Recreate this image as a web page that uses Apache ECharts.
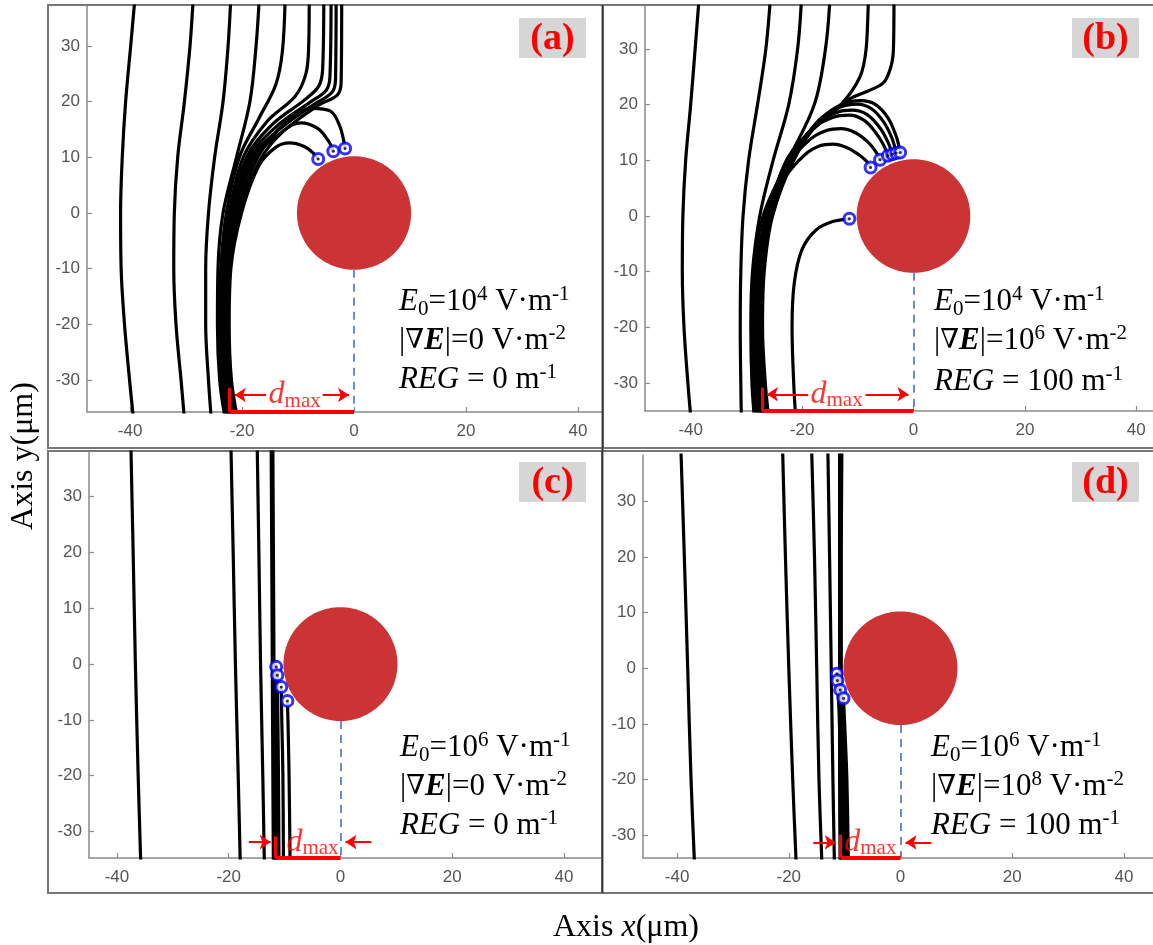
<!DOCTYPE html>
<html><head><meta charset="utf-8">
<script src="https://cdn.jsdelivr.net/npm/echarts@6/dist/echarts.min.js"></script>
<style>html,body{margin:0;padding:0;background:#fff}#c{width:1153px;height:945px}</style>
</head><body><div id="c"></div>
<script>
// ================= DATA (µm) =================
const xTickValues = [-40, -20, 0, 20, 40];
const yTickValues = [-30, -20, -10, 0, 10, 20, 30];
const panelTags = ['(a)', '(b)', '(c)', '(d)'];
const particle = [[0, 0, 10.2]];           // centre x, centre y, radius
const E0exp = [4, 4, 6, 6];                // E0 = 10^n V·m^-1
const gradEexp = [null, 6, null, 8];       // |∇E| = 10^n V·m^-2 (null -> 0)
const REGvalues = [0, 100, 0, 100];        // m^-1
const dmaxValues = [22.2, 27.2, 11.6, 10.7];

// (a) trajectories
const trajA = [
  [[-39.4,-37],[-40.1,-30],[-41.0,-20],[-41.6,-10],[-41.7,0],[-41.4,10],[-40.8,20],[-39.9,30],[-39.1,39]],
  [[-30.3,-37],[-30.9,-30],[-31.8,-20],[-32.2,-10],[-32.1,0],[-31.5,10],[-30.3,20],[-29.3,30],[-28.7,39]],
  [[-25.5,-37],[-26.0,-30],[-26.5,-20],[-26.5,-10],[-26.0,0],[-24.9,10],[-23.4,20],[-22.5,30],[-22.0,39]],
  [[-23.0,-37],[-24.0,-30],[-24.4,-20],[-24.3,-10],[-23.4,0],[-21.0,10],[-18.6,20],[-17.5,30],[-16.9,39]],
  [[-22.6,-37],[-23.6,-30],[-24.0,-20],[-23.8,-10],[-22.8,0],[-20.5,10],[-17.0,17],[-14.0,23],[-12.8,29],[-12.3,39]],
  [[-22.3,-37],[-23.3,-30],[-23.7,-20],[-23.5,-10],[-22.3,0],[-19.8,10],[-15.5,16.5],[-10.5,21],[-8.6,25],[-8.1,30],[-8.0,39]],
  [[-22.0,-37],[-23.1,-30],[-23.5,-20],[-23.2,-10],[-21.9,0],[-19.2,10],[-14.5,16],[-9.0,20.2],[-6.3,22.8],[-5.6,26],[-5.4,39]],
  [[-21.8,-37],[-22.9,-30],[-23.3,-20],[-23.0,-10],[-21.6,0],[-18.7,10],[-13.8,15.6],[-8.0,19.8],[-5.0,22.0],[-4.3,24.5],[-4.1,39]],
  [[-21.6,-37],[-22.7,-30],[-23.1,-20],[-22.8,-10],[-21.3,0],[-18.2,10],[-13.0,15.3],[-7.2,19.5],[-4.0,21.6],[-3.3,24],[-3.2,39]],
  [[-21.4,-37],[-22.5,-30],[-22.9,-20],[-22.6,-10],[-21.0,0],[-17.7,10],[-12.3,15.0],[-6.5,19.3],[-3.0,21.2],[-2.3,23.5],[-2.2,39]],
  [[-21.2,-37],[-22.3,-30],[-22.7,-20],[-22.4,-10],[-20.7,0],[-17.2,10],[-12.0,16.5],[-7.5,18.8],[-4.2,18.3],[-2.5,15.5],[-1.6,11.6]],
  [[-21.0,-37],[-22.1,-30],[-22.5,-20],[-22.2,-10],[-20.4,0],[-16.8,9.5],[-12.5,14.8],[-9.5,16.2],[-6.5,15.2],[-4.6,13.0],[-3.7,11.1]],
  [[-20.8,-37],[-21.9,-30],[-22.3,-20],[-22.0,-10],[-20.1,0],[-17.0,8.5],[-14.0,11.8],[-11.5,12.6],[-9.0,12.0],[-7.3,10.8],[-6.4,9.7]]
];
const captureA = [[-6.4,9.7],[-3.7,11.1],[-1.6,11.6]];

// (b) trajectories
const trajB = [
  [[-39.9,-37],[-40.5,-30],[-41.2,-20],[-41.5,-10],[-41.4,0],[-40.9,10],[-40.0,20],[-39.2,30],[-38.5,39]],
  [[-30.9,-37],[-31.0,-30],[-31.1,-20],[-31.0,-10],[-30.6,0],[-29.6,10],[-28.0,20],[-26.5,30],[-25.7,39]],
  [[-28.5,-37],[-29.0,-30],[-29.2,-20],[-28.9,-10],[-27.6,0],[-25.2,10],[-22.4,20],[-20.8,30],[-20.1,39]],
  [[-28.1,-37],[-28.6,-30],[-28.9,-20],[-28.6,-10],[-27.0,0],[-22.5,10],[-17.8,20],[-15.8,30],[-15.0,39]],
  [[-27.8,-37],[-28.3,-30],[-28.6,-20],[-28.3,-10],[-26.4,0],[-22.7,10],[-18.6,15],[-13.0,20],[-9.6,25],[-8.5,30],[-8.1,39]],
  [[-27.5,-37],[-28.0,-30],[-28.3,-20],[-28.0,-10],[-26.2,0],[-22.8,10],[-19.0,14.8],[-15.6,18],[-11.5,21],[-7.8,22.6],[-5.3,24],[-4.0,27],[-3.6,30],[-3.5,39]],
  [[-25.9,-37],[-26.6,-30],[-27.1,-20],[-26.8,-10],[-25.3,0],[-21.5,10],[-16.5,17.5],[-12.5,20.2],[-9.5,20.7],[-6.8,20.0],[-4.5,17.5],[-3.0,14.0],[-2.4,11.4]],
  [[-26.2,-37],[-26.9,-30],[-27.4,-20],[-27.1,-10],[-25.6,0],[-21.8,10],[-17.0,17.2],[-13.0,19.6],[-10.2,20.1],[-7.6,19.3],[-5.3,16.8],[-3.8,13.8],[-3.1,11.3]],
  [[-26.5,-37],[-27.2,-30],[-27.7,-20],[-27.4,-10],[-25.9,0],[-22.1,10],[-17.5,16.5],[-13.8,18.6],[-11.0,19.0],[-8.3,18.2],[-6.0,15.8],[-4.6,13.3],[-3.8,11.1]],
  [[-26.8,-37],[-27.4,-30],[-27.9,-20],[-27.6,-10],[-26.1,0],[-22.4,10],[-18.0,15.8],[-14.5,17.7],[-11.5,18.1],[-8.9,17.2],[-6.8,15.0],[-5.4,12.8],[-4.6,10.8]],
  [[-27.0,-37],[-27.6,-30],[-28.1,-20],[-27.8,-10],[-26.3,0],[-22.8,9],[-18.5,13.8],[-15.5,15.4],[-13.0,15.7],[-10.5,15.0],[-8.2,13.3],[-6.8,11.6],[-6.0,10.1]],
  [[-27.2,-37],[-27.8,-30],[-28.3,-20],[-28.0,-10],[-26.5,0],[-23.0,7],[-19.5,11],[-16.8,12.6],[-14.5,12.9],[-12.0,12.3],[-9.8,11.0],[-8.4,9.8],[-7.7,8.7]],
  [[-21.1,-37],[-21.5,-30],[-21.8,-20],[-21.4,-12],[-20.0,-6],[-17.5,-2.5],[-14.5,-1.0],[-11.5,-0.5]]
];
const captureB = [[-7.7,8.7],[-6.0,10.1],[-4.6,10.8],[-3.8,11.1],[-3.1,11.3],[-2.4,11.4],[-11.5,-0.5]];

// (c) trajectories
const trajC = [
  [[-35.7,-37],[-36.2,-20],[-36.7,0],[-37.1,20],[-37.5,39]],
  [[-17.9,-37],[-18.3,-20],[-18.8,0],[-19.2,20],[-19.6,39]],
  [[-13.6,-37],[-13.9,-20],[-14.3,0],[-14.6,20],[-14.9,39]],
  [[-12.0,-37],[-12.1,-20],[-12.2,0],[-12.3,20],[-12.4,39]],
  [[-11.8,-37],[-11.8,-20],[-11.9,0],[-12.0,20],[-12.1,39]],
  [[-11.5,-37],[-11.5,-20],[-11.5,-10],[-11.5,-0.5]],
  [[-11.0,-37],[-11.1,-20],[-11.2,-10],[-11.3,-2.0]],
  [[-10.2,-37],[-10.3,-20],[-10.5,-10],[-10.6,-4.1]],
  [[-9.0,-37],[-9.2,-20],[-9.4,-10],[-9.5,-6.6]]
];
const captureC = [[-11.5,-0.5],[-11.3,-2.0],[-10.6,-4.1],[-9.5,-6.6]];

// (d) trajectories
const trajD = [
  [[-36.8,-37],[-37.5,-20],[-38.1,0],[-38.7,20],[-39.3,39]],
  [[-18.6,-37],[-19.3,-20],[-20.0,0],[-20.6,20],[-21.1,39]],
  [[-14.0,-37],[-14.6,-20],[-15.0,0],[-15.4,20],[-15.9,39]],
  [[-11.8,-37],[-12.1,-20],[-12.4,0],[-12.7,20],[-13.0,39]],
  [[-10.8,-37],[-10.9,-20],[-10.9,0],[-10.9,20],[-10.9,39]],
  [[-10.6,-37],[-10.6,-20],[-10.6,0],[-10.6,20],[-10.5,39]],
  [[-10.4,-37],[-10.7,-20],[-11.0,-8],[-11.4,-1.0]],
  [[-10.1,-37],[-10.4,-20],[-10.8,-8],[-11.3,-2.2]],
  [[-9.7,-37],[-10.0,-20],[-10.4,-8],[-10.8,-3.9]],
  [[-9.3,-37],[-9.6,-20],[-10.0,-10],[-10.2,-5.4]]
];
const captureD = [[-11.4,-1.0],[-11.3,-2.2],[-10.8,-3.9],[-10.2,-5.4]];

// d_max annotation geometry (µm)
const dmaxArrowY = [-32.7, -32.0, -31.9, -31.3];
const dmaxTickTop = [-31.4, -30.8, -30.9, -29.9];
const dmaxLabelX = [-10.6, -13.8, -5.0, -5.4];
const dmaxArrowInner = [[-15.7, -5.6], [-18.9, -8.6], [-16.4, 5.5], [-15.6, 5.5]];

// ================= LAYOUT =================
const serif = "'Liberation Serif','Times New Roman',serif";
const sans = "'Liberation Sans',Arial,Helvetica,sans-serif";
const panelsLayout = [
  {grid:{left:87, top:6, width:515, height:406}, x:[-47.7,44.3], y:[-35.75,37.2], tag:[519,18], text:[399,284], outward:true},
  {grid:{left:645, top:6, width:508, height:405}, x:[-48.2,43.0], y:[-35.0,37.7], tag:[1072,18], text:[934,284], outward:true},
  {grid:{left:89, top:452, width:513, height:406}, x:[-45.0,46.8], y:[-34.75,38.0], tag:[519,462], text:[400,730], outward:false},
  {grid:{left:643, top:455, width:510, height:403}, x:[-46.1,45.2], y:[-34.1,38.3], tag:[1072,462], text:[931,730], outward:false}
];
const trajs = [trajA, trajB, trajC, trajD];
const captures = [captureA, captureB, captureC, captureD];

const grids = [], xAxes = [], yAxes = [], series = [], graphics = [];
const axisGrey = '#8a8a8a';

panelsLayout.forEach((L, i) => {
  grids.push(Object.assign({containLabel:false}, L.grid));
  xAxes.push({
    gridIndex:i, type:'value', min:L.x[0], max:L.x[1],
    axisLine:{show:true, onZero:false, lineStyle:{color:axisGrey, width:1.5}},
    axisTick:{show:true, inside:true, length:5, customValues:xTickValues, lineStyle:{color:axisGrey, width:1.2}},
    axisLabel:{show:true, customValues:xTickValues, color:'#555', fontSize:17, fontFamily:sans, margin:11},
    splitLine:{show:false}
  });
  yAxes.push({
    gridIndex:i, type:'value', min:L.y[0], max:L.y[1],
    axisLine:{show:true, onZero:false, lineStyle:{color:axisGrey, width:1.5}},
    axisTick:{show:true, inside:true, length:5, customValues:yTickValues, lineStyle:{color:axisGrey, width:1.2}},
    axisLabel:{show:true, customValues:yTickValues, color:'#555', fontSize:17, fontFamily:sans, margin:7},
    splitLine:{show:false}
  });
  // particle disc
  series.push({
    type:'custom', xAxisIndex:i, yAxisIndex:i, silent:true, z:1, clip:true,
    data: particle,
    renderItem: (params, api) => {
      const cx = api.value(0), cy = api.value(1), r = api.value(2);
      const pts = [];
      for (let k = 0; k < 120; k++) {
        const t = k / 120 * Math.PI * 2;
        pts.push(api.coord([cx + r * Math.cos(t), cy + r * Math.sin(t)]));
      }
      return {type:'polygon', shape:{points:pts}, style:{fill:'#CB3335'}};
    }
  });
  // trajectories
  trajs[i].forEach(tr => {
    series.push({
      type:'line', xAxisIndex:i, yAxisIndex:i, data:tr, showSymbol:false, symbol:'none',
      smooth:0.35, clip:true, silent:true, z:2,
      lineStyle:{color:'#000', width:3.2}
    });
  });
  // capture markers
  series.push({
    type:'scatter', xAxisIndex:i, yAxisIndex:i, data:captures[i], symbol:'circle', symbolSize:11,
    silent:true, z:3, itemStyle:{color:'#fff', borderColor:'#0000FF', borderWidth:3}
  });
  series.push({
    type:'scatter', xAxisIndex:i, yAxisIndex:i, data:captures[i], symbol:'circle', symbolSize:3,
    silent:true, z:4, itemStyle:{color:'#000'}
  });
  // d_max annotation + dashed centre line
  const ymin = L.y[0], d = -dmaxValues[i], ay = dmaxArrowY[i];
  const inner = dmaxArrowInner[i];
  const red = '#FF0000';
  const tipShift = 0.9;
  const tipL = L.outward ? d + tipShift : d - tipShift;
  const tipR = L.outward ? -tipShift : tipShift;
  const arrows = [
    [{coord:[inner[0], ay], symbol:'none', lineStyle:{color:red, width:2, type:'solid'}}, {coord:[tipL, ay], symbol:'arrow', symbolSize:11}],
    [{coord:[inner[1], ay], symbol:'none', lineStyle:{color:red, width:2, type:'solid'}}, {coord:[tipR, ay], symbol:'arrow', symbolSize:11}]
  ];
  series.push({
    type:'scatter', xAxisIndex:i, yAxisIndex:i, silent:true, z:6, clip:false,
    data:[[dmaxLabelX[i], ay]], symbolSize:1, itemStyle:{color:'rgba(0,0,0,0)'},
    label:{show:true, position:'inside', formatter:'{d|d}{m|max}',
      rich:{
        d:{fontFamily:serif, fontStyle:'italic', fontSize:32, color:red, lineHeight:34},
        m:{fontFamily:serif, fontSize:21, color:red, lineHeight:22, verticalAlign:'bottom'}
      }},
    markLine:{
      silent:true, animation:false, label:{show:false}, emphasis:{disabled:true},
      symbol:['none','none'], precision:3,
      data:[
        [{coord:[0, -particle[0][2]], symbol:'none', lineStyle:{color:'#4472C4', width:1.6, type:[8,6]}}, {coord:[0, ymin], symbol:'none'}],
        [{coord:[d, ymin], symbol:'none', lineStyle:{color:red, width:4, type:'solid'}}, {coord:[0, ymin], symbol:'none'}],
        [{coord:[d, ymin], symbol:'none', lineStyle:{color:red, width:3, type:'solid'}}, {coord:[d, dmaxTickTop[i]], symbol:'none'}]
      ].concat(arrows)
    }
  });

  // frame + tag + text
  graphics.push({
    type:'rect', silent:true, z:-1,
    shape:{x:[48,603,48,602][i], y:[5,5,451,451][i], width:[555,560,554,560][i], height:[443,443,442,442][i]},
    style:{fill:'none', stroke:'#777', lineWidth:2}
  });
  graphics.push({
    type:'group', x:L.tag[0], y:L.tag[1], z:100, silent:true,
    children:[
      {type:'rect', shape:{x:0, y:0, width:67, height:40}, style:{fill:'#D6D6D6'}},
      {type:'text', x:33.5, y:21, style:{text:panelTags[i], fill:'#FF0000', font:"bold 38px " + serif, align:'center', verticalAlign:'middle'}}
    ]
  });
  const richAnno = {
    n:{fontFamily:serif, fontSize:31, lineHeight:36, fill:'#000'},
    nab:{fontFamily:"'DejaVu Serif',serif", fontSize:27, lineHeight:36, fill:'#000'},
    i:{fontFamily:serif, fontSize:31, fontStyle:'italic', lineHeight:36, fill:'#000'},
    bi:{fontFamily:serif, fontSize:31, fontStyle:'italic', fontWeight:'bold', lineHeight:36, fill:'#000'},
    sup:{fontFamily:serif, fontSize:21, lineHeight:14, verticalAlign:'top', fill:'#000'},
    sub:{fontFamily:serif, fontSize:21, lineHeight:21, verticalAlign:'bottom', fill:'#000'}
  };
  const line1 = '{i|E}{sub|0}{n|=10}{sup|' + E0exp[i] + '}{n| V·m}{sup|-1}';
  const line2 = gradEexp[i] == null
    ? '{n||}{nab|∇}{bi|E}{n||=0 V·m}{sup|-2}'
    : '{n||}{nab|∇}{bi|E}{n||=10}{sup|' + gradEexp[i] + '}{n| V·m}{sup|-2}';
  const line3 = '{i|REG}{n| = ' + REGvalues[i] + ' m}{sup|-1}';
  [line1, line2, line3].forEach((t, k) => {
    graphics.push({
      type:'text', x:L.text[0], y:L.text[1] + k * 39 + (i === 1 && k === 2 ? 2 : 0), z:100, silent:true,
      style:{text:t, rich:richAnno, align:'left', verticalAlign:'top', fill:'#000'}
    });
  });
});

// dark vertical divider
graphics.push({type:'line', silent:true, z:50, shape:{x1:602.5, y1:5, x2:602.5, y2:893}, style:{stroke:'#333', lineWidth:1.8}});
// axis titles
graphics.push({
  type:'text', x:626, y:928, z:100, silent:true,
  style:{text:'{n|Axis }{i|x}{n|(μm)}', align:'center', verticalAlign:'middle',
    rich:{n:{fontFamily:serif, fontSize:32, fill:'#000'}, i:{fontFamily:serif, fontSize:32, fontStyle:'italic', fill:'#000'}}}
});
graphics.push({
  type:'text', x:24, y:456, rotation:Math.PI / 2, z:100, silent:true,
  style:{text:'Axis y(μm)', align:'center', verticalAlign:'middle', fill:'#000', font:"32px " + serif}
});

const chart = echarts.init(document.getElementById('c'), null, {renderer:'canvas'});
chart.setOption({
  animation:false,
  backgroundColor:'#fff',
  grid:grids, xAxis:xAxes, yAxis:yAxes, series:series, graphic:graphics
});
</script>
</body></html>
